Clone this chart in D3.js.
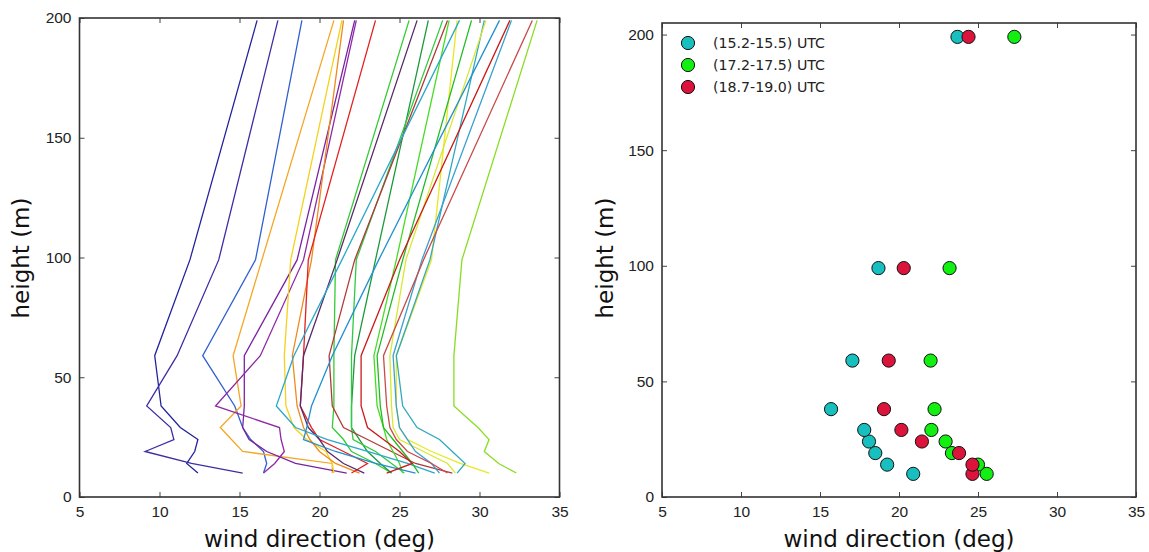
<!DOCTYPE html>
<html>
<head>
<meta charset="utf-8">
<script src="https://cdn.jsdelivr.net/npm/d3@7"></script>
<style>
  body { margin: 0; background: #fff; }
  svg { font-family: "DejaVu Sans", sans-serif; }
</style>
</head>
<body>
<div id="chart"></div>
<script>
// heights of the measurement levels (m)
const heights = [10, 14, 19, 24, 29, 38, 59, 99, 199];

// left panel: one wind-direction profile per scan (deg at each height)
const profiles = [
  { color: "#23239f", dir: [12.4, 11.7, 12.2, 12.4, 11.3, 10.1, 9.7, 11.9, 16.1] },
  { color: "#3d2fa3", dir: [15.2, 12.0, 9.1, 10.9, 10.7, 9.2, 11.1, 13.7, 17.4] },
  { color: "#3060d0", dir: [16.5, 16.7, 16.5, 15.7, 15.2, 14.7, 12.7, 16.0, 18.9] },
  { color: "#f5a623", dir: [20.8, 20.8, 15.2, 14.5, 13.8, 15.1, 14.6, 16.4, 20.9] },
  { color: "#7b22a3", dir: [21.7, 18.5, 16.7, 15.6, 15.2, 15.3, 15.3, 18.6, 22.2] },
  { color: "#8e2aa5", dir: [16.5, 17.2, 17.8, 17.6, 17.5, 13.5, 16.3, 19.0, 22.3] },
  { color: "#f5d21a", dir: [20.9, 20.8, 20.4, 19.2, 18.4, 17.9, 17.8, 18.2, 21.4] },
  { color: "#f08a1a", dir: [22.5, 21.0, 20.0, 19.4, 19.0, 18.6, 18.3, 19.5, 21.5] },
  { color: "#e62020", dir: [22.0, 23.0, 21.5, 20.0, 19.5, 18.8, 19.0, 19.3, 23.5] },
  { color: "#33cc33", dir: [24.5, 23.5, 22.0, 21.5, 20.8, 20.9, 20.9, 21.0, 25.6] },
  { color: "#5a2a6a", dir: [22.8, 21.5, 20.5, 20.0, 19.3, 18.8, 19.0, 21.1, 26.1] },
  { color: "#1a9a3a", dir: [24.5, 23.8, 23.0, 22.5, 22.0, 22.0, 22.2, 23.5, 26.8] },
  { color: "#2ecc40", dir: [25.3, 24.5, 23.5, 22.1, 22.0, 22.0, 22.0, 22.3, 27.7] },
  { color: "#b03a3a", dir: [28.3, 26.0, 24.5, 23.0, 21.5, 20.8, 20.6, 22.2, 28.0] },
  { color: "#44dd22", dir: [25.2, 25.0, 24.6, 24.2, 24.0, 23.6, 23.4, 24.8, 28.1] },
  { color: "#e8e820", dir: [30.6, 28.8, 27.0, 25.5, 25.0, 24.8, 24.8, 27.0, 28.6] },
  { color: "#2aa8c8", dir: [27.2, 25.5, 23.0, 20.5, 18.5, 17.3, 18.4, 21.4, 28.75] },
  { color: "#22bb22", dir: [26.2, 25.8, 25.2, 24.6, 24.0, 23.8, 23.6, 25.2, 29.5] },
  { color: "#30a8c0", dir: [28.6, 29.1, 28.3, 27.5, 26.1, 25.2, 24.8, 26.9, 30.3] },
  { color: "#d8e830", dir: [28.5, 28.0, 26.5, 25.0, 24.6, 24.5, 24.4, 25.4, 30.4] },
  { color: "#2090d0", dir: [26.0, 23.5, 21.0, 19.0, 19.2, 19.5, 20.8, 23.7, 31.25] },
  { color: "#cc1a1a", dir: [24.2, 25.8, 25.0, 24.0, 23.0, 22.6, 22.6, 25.0, 31.9] },
  { color: "#3aa0d0", dir: [27.5, 27.0, 26.0, 25.5, 25.0, 24.8, 24.6, 26.4, 32.0] },
  { color: "#c84a4a", dir: [28.0, 27.0, 25.5, 24.8, 24.4, 24.2, 24.0, 26.5, 33.3] },
  { color: "#88dd22", dir: [32.3, 31.2, 30.3, 30.6, 29.9, 28.4, 28.4, 28.9, 33.6] }
];

// right panel: scans averaged over three time windows
const seriesNames = ["(15.2-15.5) UTC", "(17.2-17.5) UTC", "(18.7-19.0) UTC"];
const seriesColors = ["#17bfbf", "#12f012", "#dc143c"];
const meanCyan  = [20.9, 19.25, 18.5, 18.1, 17.8, 15.7, 17.05, 18.7, 23.7];
const meanGreen = [25.55, 25.0, 23.35, 22.95, 22.05, 22.25, 22.0, 23.2, 27.3];
const meanRed   = [24.65, 24.65, 23.8, 21.45, 20.15, 19.05, 19.35, 20.3, 24.4];
const meanDirs = [meanCyan, meanGreen, meanRed];

const xTicks = [5, 10, 15, 20, 25, 30, 35];
const yTicks = [0, 50, 100, 150, 200];

const W = 1149, H = 552;
const svg = d3.select("#chart").append("svg").attr("width", W).attr("height", H);

function drawFrame(x, y) {
  const [x0, x1] = x.range();
  const [y0, y1] = y.range();
  const g = svg.append("g");
  const tickLen = 5;
  const ax = [
    d3.axisBottom(x).tickValues(xTicks).tickSizeInner(-tickLen).tickSizeOuter(0).tickPadding(9),
    d3.axisTop(x).tickValues(xTicks).tickSizeInner(-tickLen).tickSizeOuter(0).tickFormat(""),
    d3.axisLeft(y).tickValues(yTicks).tickSizeInner(-tickLen).tickSizeOuter(0).tickPadding(8),
    d3.axisRight(y).tickValues(yTicks).tickSizeInner(-tickLen).tickSizeOuter(0).tickFormat("")
  ];
  const pos = [`translate(0,${y0})`, `translate(0,${y1})`, `translate(${x0},0)`, `translate(${x1},0)`];
  ax.forEach((a, i) => {
    const gg = g.append("g").attr("transform", pos[i]).call(a);
    gg.select(".domain").remove();
    gg.selectAll(".tick line").attr("stroke", "#444").attr("stroke-width", 1);
    gg.selectAll(".tick text").attr("font-size", 15.5).attr("fill", "#222");
  });
  g.append("rect")
    .attr("x", x0).attr("y", y1).attr("width", x1 - x0).attr("height", y0 - y1)
    .attr("fill", "none").attr("stroke", "#333").attr("stroke-width", 1.6);
  return g;
}

// ---- left panel ----
const xL = d3.scaleLinear().domain([5, 35]).range([79.5, 559.5]);
const yL = d3.scaleLinear().domain([0, 200]).range([497, 18]);

svg.append("clipPath").attr("id", "clipL").append("rect")
  .attr("x", 79.5).attr("y", 18).attr("width", 480).attr("height", 479);

const line = d3.line().x(d => xL(d[0])).y(d => yL(d[1]));
svg.append("g").attr("clip-path", "url(#clipL)")
  .selectAll("path").data(profiles).join("path")
  .attr("d", p => line(p.dir.map((v, i) => [v, heights[i]])))
  .attr("fill", "none").attr("stroke", p => p.color).attr("stroke-width", 1.3);

drawFrame(xL, yL);

// ---- right panel ----
const xR = d3.scaleLinear().domain([5, 35]).range([662, 1136]);
const yR = d3.scaleLinear().domain([0, 205]).range([497, 23]);

meanDirs.forEach((dirs, s) => {
  svg.append("g").selectAll("circle").data(dirs).join("circle")
    .attr("cx", d => xR(d)).attr("cy", (d, i) => yR(heights[i]))
    .attr("r", 6.6).attr("fill", seriesColors[s])
    .attr("stroke", "#111").attr("stroke-width", 1);
});

drawFrame(xR, yR);

const legend = svg.append("g");
seriesNames.forEach((name, i) => {
  const ly = 43 + i * 22;
  legend.append("circle").attr("cx", 688).attr("cy", ly).attr("r", 6.6)
    .attr("fill", seriesColors[i]).attr("stroke", "#111").attr("stroke-width", 1);
  legend.append("text").attr("x", 713).attr("y", ly + 5)
    .attr("font-size", 14.2).attr("fill", "#222").text(name);
});

// axis labels
[[xL, "wind direction (deg)"], [xR, "wind direction (deg)"]].forEach(([x, t]) => {
  svg.append("text").attr("x", (x.range()[0] + x.range()[1]) / 2).attr("y", 547)
    .attr("text-anchor", "middle").attr("font-size", 23).attr("fill", "#111").text(t);
});
[[29, 258], [613, 258]].forEach(([cx, cy]) => {
  svg.append("text").attr("transform", `translate(${cx},${cy}) rotate(-90)`)
    .attr("text-anchor", "middle").attr("font-size", 23).attr("fill", "#111").text("height (m)");
});
</script>
</body>
</html>
